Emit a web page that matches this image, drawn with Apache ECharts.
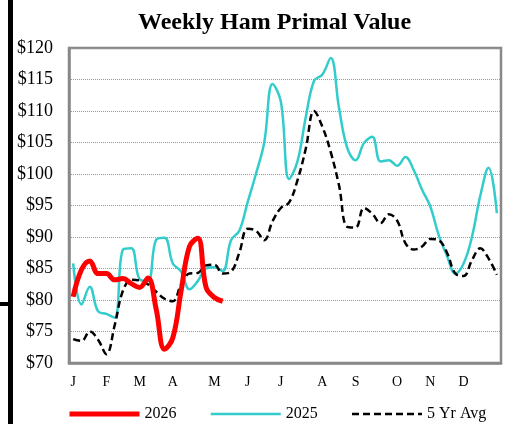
<!DOCTYPE html>
<html>
<head>
<meta charset="utf-8">
<script src="https://cdn.jsdelivr.net/npm/echarts@6/dist/echarts.min.js"></script>
<style>
html,body{margin:0;padding:0;background:#fff;}
#c{width:510px;height:424px;}
</style>
</head>
<body>
<div id="c"></div>
<script>
// Weeks 1..52
const weeks = Array.from({length: 52}, (_, i) => 'W' + (i + 1));
// Month tick labels at week indices
const monthTickIdx = [0, 4, 8, 12, 17, 21, 25, 30, 34, 39, 43, 47];
const monthTickLabels = ['J', 'F', 'M', 'A', 'M', 'J', 'J', 'A', 'S', 'O', 'N', 'D'];

const yTicks = [70, 75, 80, 85, 90, 95, 100, 105, 110, 115, 120];

const s2026 = [80.5, 84.8, 86.2, 84.2, 84.2, 83.2, 83.4, 82.6, 82.0, 83.5,
  78.5, 72.2, 74.0, 81.5, 88.5, 89.8, 82.0, 80.4, 79.8];

const s2025 = [85.8, 79.3, 82.1, 78.2, 77.8, 77.2, 88.0, 88.2, 83.3, 83.0,
  89.6, 89.9, 85.8, 84.5, 81.7, 83.0, 85.0, 85.2, 84.6, 89.5,
  91.0, 95.5, 100.0, 105.0, 114.3, 111.5, 99.2, 102.0, 109.0, 114.8,
  115.8, 118.4, 110.5, 104.1, 102.2, 104.9, 105.9, 102.0, 102.2, 101.3,
  102.7, 100.6, 97.5, 94.8, 90.3, 87.0, 84.2, 85.8, 90.0, 96.5,
  101.0, 93.8];

const s5yr = [73.8, 73.5, 75.0, 73.7, 71.4, 76.0, 81.5, 83.2, 83.1, 82.5,
  81.3, 80.2, 79.8, 82.5, 84.2, 84.3, 85.5, 85.6, 84.2, 84.5,
  87.5, 91.3, 91.0, 89.5, 92.5, 94.6, 95.5, 99.0, 104.0, 110.0,
  107.5, 103.5, 98.2, 91.6, 91.5, 94.6, 93.7, 92.2, 93.6, 92.6,
  89.0, 88.0, 88.5, 89.7, 89.5, 87.5, 84.2, 83.8, 86.3, 88.2,
  86.6, 84.0];

const serif = '"Liberation Serif", "Times New Roman", serif';

const chart = echarts.init(document.getElementById('c'), null, {renderer: 'canvas'});
chart.setOption({
  animation: false,
  backgroundColor: '#fff',
  title: {
    text: 'Weekly Ham Primal Value',
    left: 133,
    top: 6,
    textStyle: {fontFamily: serif, fontSize: 24, fontWeight: 'bold', color: '#000'}
  },
  grid: {
    left: 69, right: 9, top: 48, bottom: 61,
    show: true, borderColor: '#888', borderWidth: 2.5, backgroundColor: 'transparent'
  },
  legend: {
    top: 401,
    left: 62,
    itemWidth: 70,
    itemHeight: 10,
    itemGap: 33,
    itemStyle: {opacity: 0},
    textStyle: {fontFamily: serif, fontSize: 16, color: '#000'},
    data: [
      {name: '2026', lineStyle: {width: 5}},
      {name: '2025', lineStyle: {width: 2.5}},
      {name: '5 Yr Avg', lineStyle: {width: 2.5}}
    ]
  },
  xAxis: {
    type: 'category',
    data: weeks,
    boundaryGap: true,
    axisLine: {show: true, lineStyle: {color: '#888', width: 2.5}},
    axisTick: {show: false},
    splitLine: {show: false},
    axisLabel: {
      interval: (idx) => monthTickIdx.indexOf(idx) >= 0,
      formatter: (val, idx) => {
        const k = monthTickIdx.indexOf(idx);
        return k >= 0 ? monthTickLabels[k] : '';
      },
      margin: 12,
      fontFamily: serif, fontSize: 14, color: '#000'
    }
  },
  yAxis: {
    type: 'value',
    min: yTicks[0], max: yTicks[yTicks.length - 1], interval: 5,
    axisLine: {show: true, lineStyle: {color: '#888', width: 2.5}},
    axisTick: {show: false},
    splitLine: {show: true, lineStyle: {color: '#999', width: 1, type: 'dotted'}},
    axisLabel: {
      formatter: (v) => '$' + v,
      margin: 16,
      fontFamily: serif, fontSize: 18, color: '#000'
    }
  },
  series: [
    {
      name: '2026', type: 'line', data: s2026, smooth: 0.4, symbol: 'none', z: 5,
      lineStyle: {color: '#ff0000', width: 5}, itemStyle: {color: '#ff0000'}
    },
    {
      name: '2025', type: 'line', data: s2025, smooth: 0.4, symbol: 'none', z: 3,
      lineStyle: {color: '#33cccc', width: 2.5}, itemStyle: {color: '#33cccc'}
    },
    {
      name: '5 Yr Avg', type: 'line', data: s5yr, smooth: 0.4, symbol: 'none', z: 4,
      lineStyle: {color: '#000', width: 2.5, type: [7, 4]}, itemStyle: {color: '#000'}
    }
  ],
  graphic: [
    {type: 'rect', shape: {x: 8, y: 0, width: 5, height: 424}, style: {fill: '#000'}},
    {type: 'rect', shape: {x: 0, y: 302, width: 10, height: 4}, style: {fill: '#000'}}
  ]
});
</script>
</body>
</html>
